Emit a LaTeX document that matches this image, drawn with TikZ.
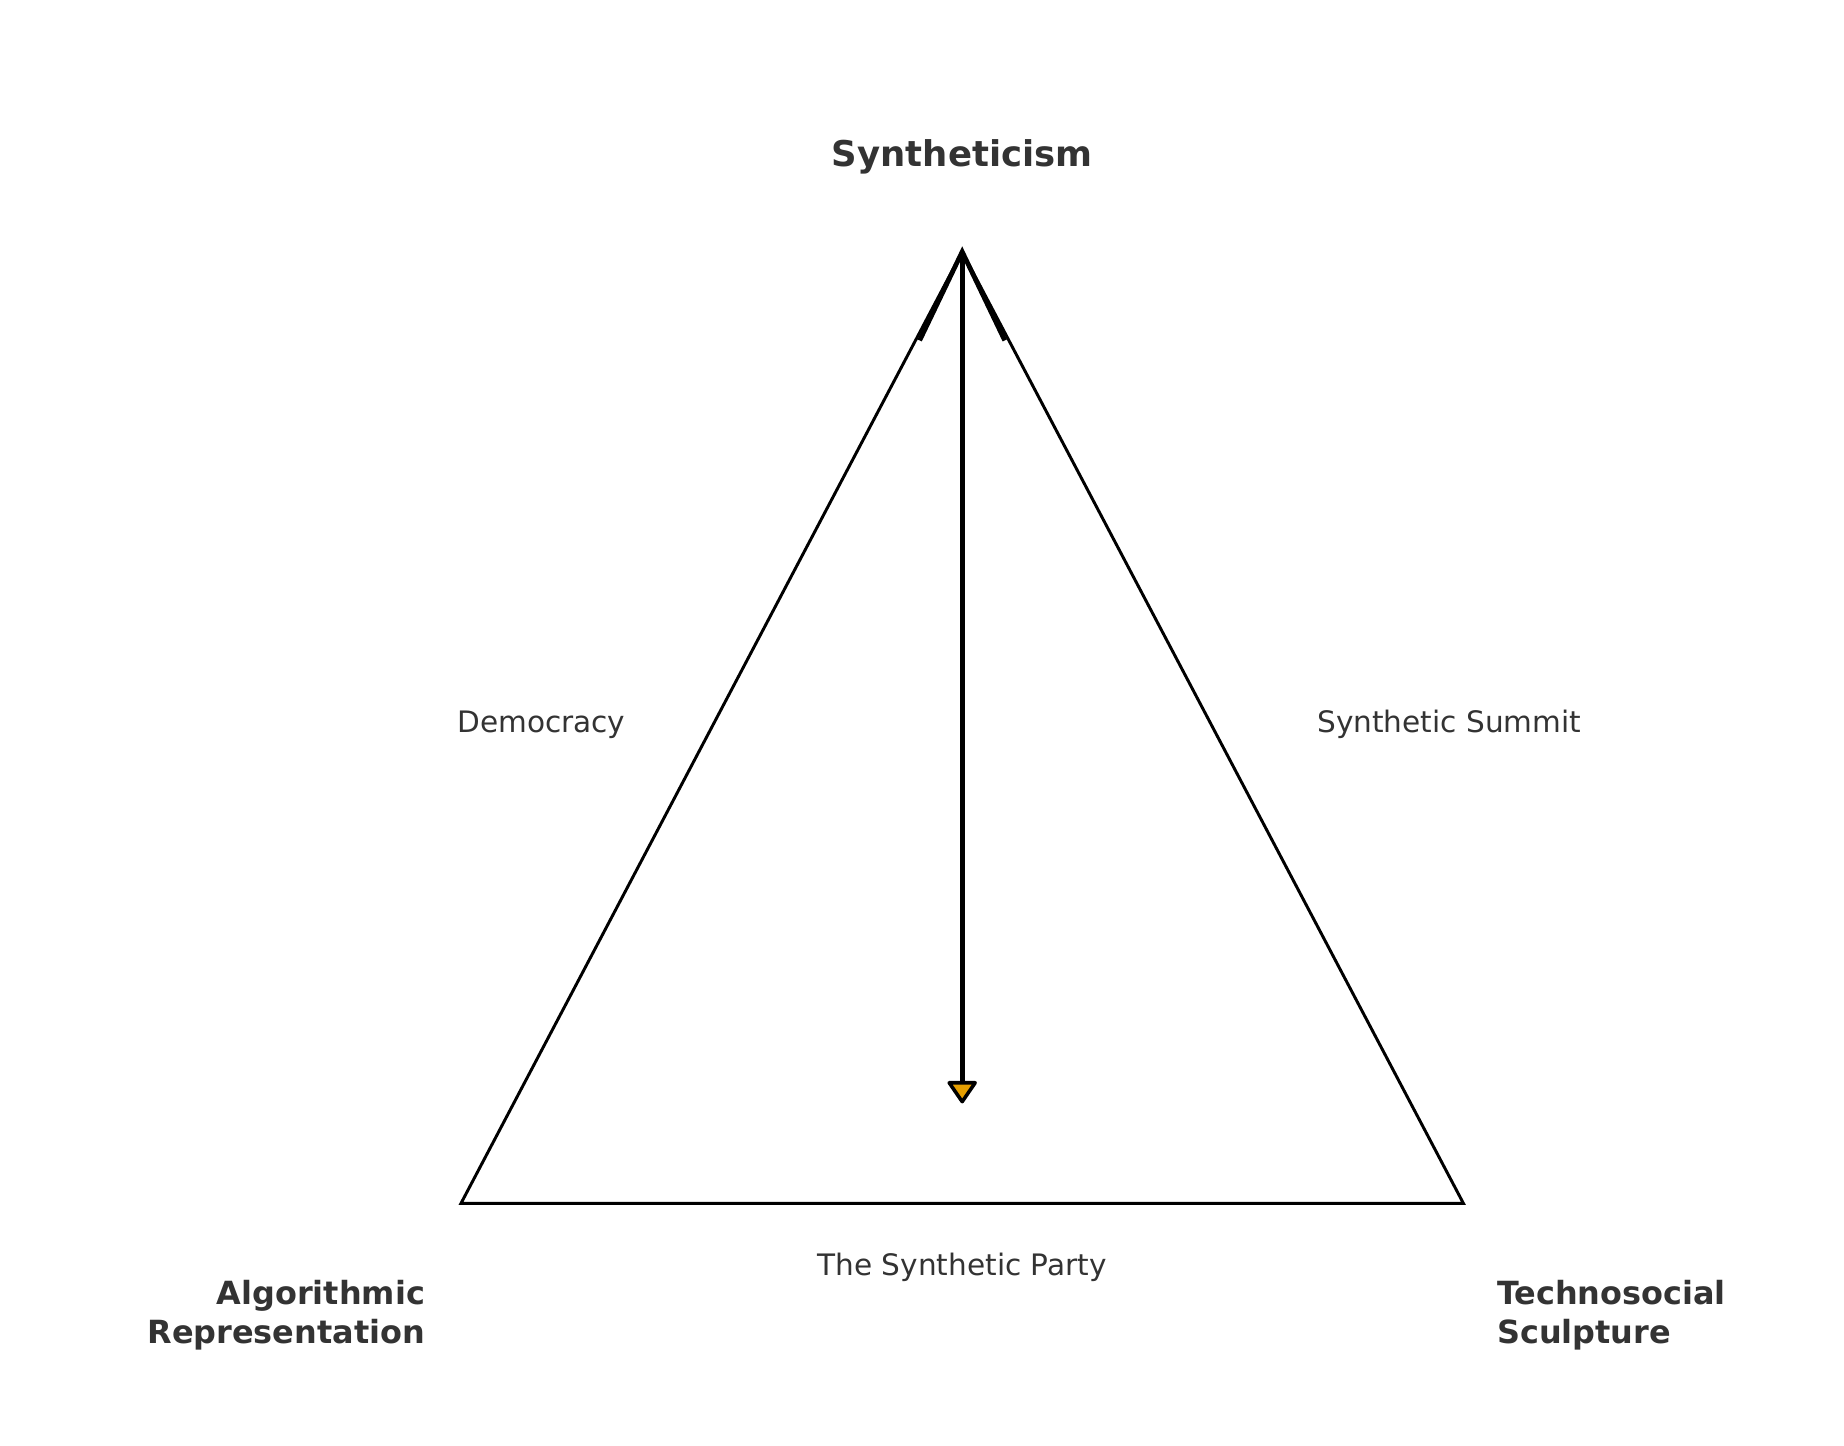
\documentclass[tikz,border=0pt]{standalone}
\usepackage{fontspec}
\setmainfont{DejaVu Sans}
\definecolor{txt}{HTML}{333333}
\definecolor{tipc}{HTML}{E69F00}
\begin{document}
\begin{tikzpicture}[x=1pt,y=-1pt,
  big/.style={font=\fontsize{30}{36}\selectfont\bfseries,text=txt},
  corner/.style={font=\fontsize{27}{33}\selectfont\bfseries,text=txt,align=#1},
  lab/.style={font=\fontsize{25}{30}\selectfont,text=txt}]
\useasboundingbox (0,0) rectangle (1560,1223);
\coordinate (A) at (814,213);
\coordinate (L) at (390,1018);
\coordinate (R) at (1238,1018);
\draw[line width=2.5pt,line join=miter] (A) -- (L) -- (R) -- cycle;
\coordinate (E) at (814,932);
\draw[line width=4pt] (A) -- (814,918);
\draw[line width=4pt,line join=miter] (778,288) -- (A) -- (850,288);
\filldraw[fill=tipc,draw=black,line width=3pt,line join=round] (803,916) -- (825,916) -- (E) -- cycle;
\node[big] (t) at (814,133) {Syntheticism};
\node[lab] (d) at (458,613) {Democracy};
\node[lab] (s) at (1226,613) {Synthetic Summit};
\node[lab] (p) at (814,1072) {The Synthetic Party};
\node[corner=right,anchor=east] (ar) at (363,1113) {Algorithmic\\Representation};
\node[corner=left,anchor=west] (ts) at (1263,1113) {Technosocial\\Sculpture};
\end{tikzpicture}
\end{document}
